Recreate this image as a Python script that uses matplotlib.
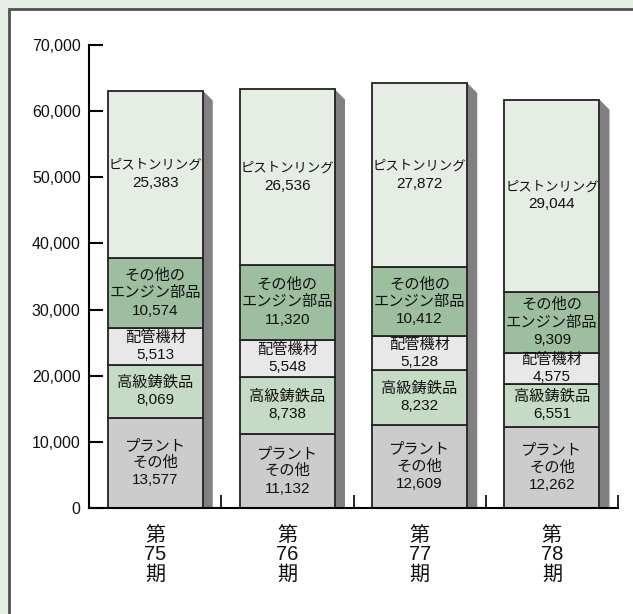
import numpy as np
import matplotlib
matplotlib.use('Agg')
import matplotlib.pyplot as plt
from matplotlib.patches import Polygon, Rectangle
from matplotlib.ticker import FuncFormatter

plt.rcParams['font.family'] = ['Liberation Sans', 'Noto Sans CJK JP', 'DejaVu Sans']

periods  = ['第\n75\n期', '第\n76\n期', '第\n77\n期', '第\n78\n期']
segments = ['プラント\nその他', '高級鋳鉄品', '配管機材', 'その他の\nエンジン部品', 'ピストンリング']
plant    = [13577, 11132, 12609, 12262]
cast     = [8069, 8738, 8232, 6551]
piping   = [5513, 5548, 5128, 4575]
engine   = [10574, 11320, 10412, 9309]
piston   = [25383, 26536, 27872, 29044]
yticks   = [0, 10000, 20000, 30000, 40000, 50000, 60000, 70000]

series = [plant, cast, piping, engine, piston]
colors = ['#cccccc', '#c5dbc5', '#e8e8e8', '#9dbf9f', '#e5ede5']
name_sizes = [11, 11, 11, 11, 9.6]

fig = plt.figure(figsize=(6.33, 6.14), dpi=100)
fig.patch.set_facecolor('#e6eee6')

# white panel with dark frame on left/top, behind the chart
bg = fig.add_axes([0, 0, 1, 1], zorder=-1)
bg.set_axis_off()
bg.set_xlim(0, 1)
bg.set_ylim(0, 1)
bg.add_patch(Rectangle((9 / 633, -0.1), 1.2, 1 - 9 / 614 + 0.1,
                       facecolor='white', edgecolor='#505050', linewidth=2))

ax = fig.add_axes([89 / 633, 1 - 508 / 614, (618 - 89) / 633, (508 - 45) / 614])
ax.set_facecolor('none')
ax.set_xlim(0, 4)
ax.set_ylim(0, 70000)

x = np.arange(4) + 0.5
w = 0.72
sdx, sdy = 0.0756, 1512

totals = np.sum(series, axis=0)
for i in range(4):
    right = x[i] + w / 2
    shadow = Polygon([(right, totals[i]), (right + sdx, totals[i] - sdy),
                      (right + sdx, 0), (right, 0)],
                     closed=True, facecolor='#808080', edgecolor='none', zorder=1)
    ax.add_patch(shadow)

bottom = np.zeros(4)
for k, vals in enumerate(series):
    ax.bar(x, vals, w, bottom=bottom, color=colors[k], edgecolor='#222222',
           linewidth=1.3, zorder=2)
    for i in range(4):
        yc = bottom[i] + vals[i] / 2
        lines = segments[k].split('\n') + [f'{vals[i]:,}']
        n = len(lines)
        for j, s in enumerate(lines):
            off = ((n - 1) / 2 - j) * 12.5
            fs = name_sizes[k] if j < n - 1 else 11
            ax.annotate(s, (x[i], yc), xytext=(0, off), textcoords='offset points',
                        ha='center', va='center', fontsize=fs, color='#111111',
                        zorder=4)
    bottom += np.array(vals)

# period labels under bars
for i in range(4):
    ax.text(x[i], -2700, periods[i], ha='center', va='top', fontsize=14.5,
            linespacing=1.02, color='#111111')

ax.spines['top'].set_visible(False)
ax.spines['right'].set_visible(False)
ax.spines['left'].set_linewidth(1.5)
ax.spines['bottom'].set_linewidth(1.5)
ax.spines['left'].set_bounds(0, 70000)

ax.set_yticks(yticks)
ax.yaxis.set_major_formatter(FuncFormatter(lambda v, p: f'{int(v):,}'))
ax.tick_params(axis='y', direction='in', length=10, width=1.5, pad=6,
               labelsize=11.5, labelcolor='#111111')
ax.set_xticks([1, 2, 3, 4])
ax.set_xticklabels([])
ax.tick_params(axis='x', direction='in', length=9.5, width=1.2)

fig.savefig('out.png', dpi=100, facecolor=fig.get_facecolor())
